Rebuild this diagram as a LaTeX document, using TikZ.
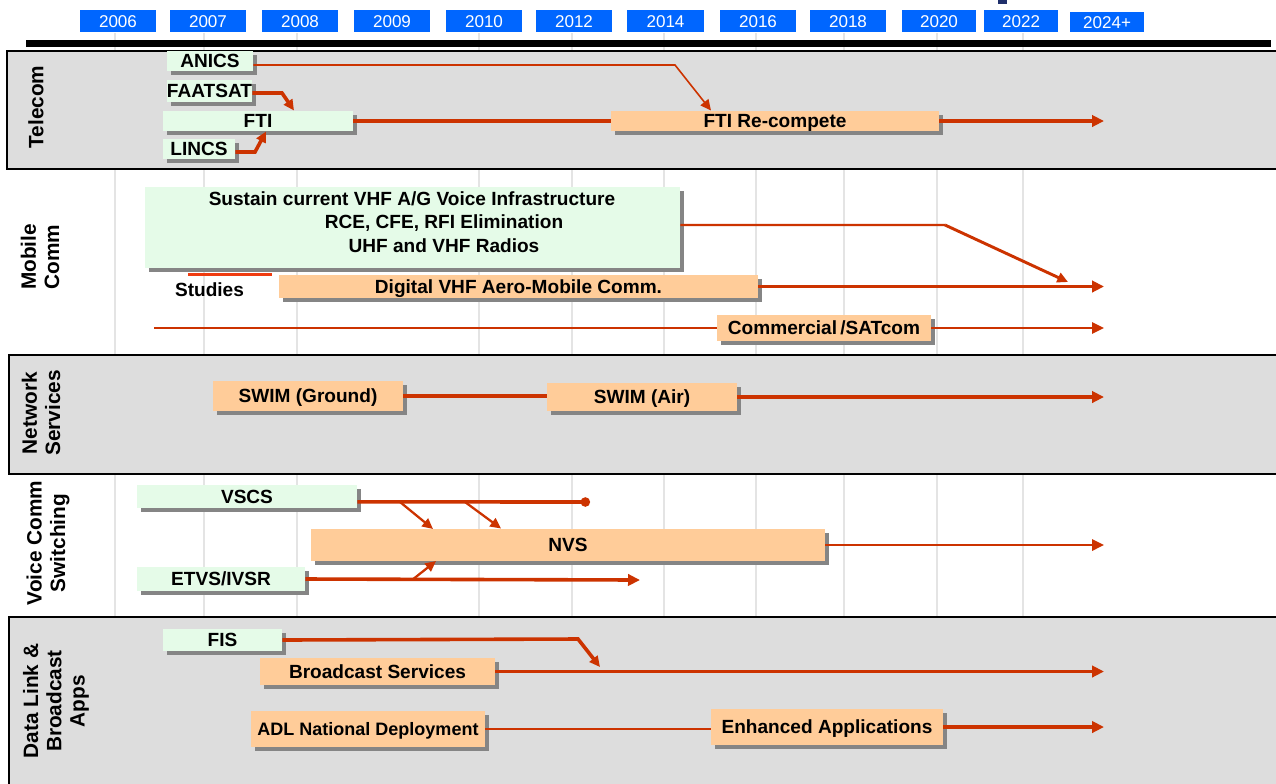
\documentclass[tikz,border=0pt]{standalone}
\usepackage{fontspec}
\setmainfont{Liberation Sans}
\usetikzlibrary{arrows.meta,shadows}
\definecolor{yearblue}{HTML}{0066FF}
\definecolor{bandgray}{HTML}{DDDDDD}
\definecolor{gridgray}{HTML}{E4E4E4}
\definecolor{boxgreen}{HTML}{E5FBE8}
\definecolor{boxpeach}{HTML}{FFCC99}
\definecolor{shgray}{HTML}{858585}
\definecolor{lred}{HTML}{CC3300}
\definecolor{barred}{HTML}{F03C10}
\definecolor{navy}{HTML}{1F2F6B}
\newcommand\boxfnt{\bfseries\fontsize{14.3}{16}\selectfont}
\newcommand\adlfnt{\bfseries\fontsize{13.5}{16}\selectfont}
\newcommand\yearfnt{\fontsize{12.8}{14}\selectfont}
\newcommand\lanefnt{\bfseries\fontsize{15.6}{17.5}\selectfont}
\tikzset{
  bx/.style n args={4}{at={({(#1+#3)/2},{(#2+#4)/2})},
    minimum width={(#3-#1)*0.75pt}, minimum height={(#4-#2)*0.75pt}},
  boxbase/.style={inner sep=0pt, font=\boxfnt, text height=10.2pt, text depth=0pt,
    drop shadow={shadow xshift=3pt, shadow yshift=-3pt, fill=shgray, opacity=1}},
  gbox/.style={boxbase, fill=boxgreen},
  pbox/.style={boxbase, fill=boxpeach},
  plaintext/.style={inner sep=0pt, font=\boxfnt, text height=10.2pt, text depth=0pt},
  yearbox/.style={fill=yearblue, inner sep=0pt, text=white, font=\yearfnt,
    text height=9.2pt, text depth=0pt},
  band/.style={fill=bandgray, draw=black, line width=1.5pt},
  gridline/.style={draw=gridgray, line width=1.5pt},
  lanelabel/.style={rotate=90, align=center, font=\lanefnt, inner sep=0pt},
  thickline/.style={draw=lred, line width=2.7pt},
  medline/.style={draw=lred, line width=1.7pt},
  thinline/.style={draw=lred, line width=1.2pt},
  bigtip/.style={-{Triangle[length=9pt,width=8.5pt]}},
  smalltip/.style={-{Triangle[length=8pt,width=7.5pt]}},
  dottip/.style={-{Circle[length=7pt]}},
}
\begin{document}
\begin{tikzpicture}[x=0.75pt,y=-0.75pt]
\useasboundingbox (0,0) rectangle (1276,783);
\fill[white] (0,0) rectangle (1276,783);

% grid lines
\foreach \gx in {115,204,297,479,572,664,756,844,937,1023}
  \draw[gridline] (\gx,33) -- (\gx,790);

% title fragment
\fill[navy] (998,0) rectangle (1007,4);

% year boxes
\node[yearbox, bx={80}{10}{156}{32}] (y06) {2006};
\node[yearbox, bx={170}{10}{246}{32}] (y07) {2007};
\node[yearbox, bx={262}{10}{338}{32}] (y08) {2008};
\node[yearbox, bx={354}{10}{430}{32}] (y09) {2009};
\node[yearbox, bx={446}{10}{522}{32}] (y10) {2010};
\node[yearbox, bx={536}{10}{612}{32}] (y12) {2012};
\node[yearbox, bx={627}{10}{704}{32}] (y14) {2014};
\node[yearbox, bx={720}{10}{796}{32}] (y16) {2016};
\node[yearbox, bx={810}{10}{886}{32}] (y18) {2018};
\node[yearbox, bx={902}{10}{976}{32}] (y20) {2020};
\node[yearbox, bx={984}{10}{1058}{32}] (y22) {2022};
\node[yearbox, bx={1070}{12}{1144}{32}] (y24) {2024+};

% black bar
\fill[black] (26,40) rectangle (1271,47);

% bands
\path[band] (7,51) rectangle (1290,169);
\path[band] (9,355) rectangle (1290,474);
\draw[line width=2pt] (9,474) -- (1290,474);
\path[band] (9,617) rectangle (1290,795);

% lane labels
\node[lanelabel] (ltel) at (36,107) {Telecom};
\node[lanelabel] (lmob) at (40,257) {Mobile\\Comm};
\node[lanelabel] (lnet) at (41,413) {Network\\Services};
\node[lanelabel] (lvoice) at (48,543) {Voice Comm\\Switching};
\node[lanelabel] (ldata) at (56,701) {Data Link \&\\Broadcast\\Apps};

% coordinates
\coordinate (endx) at (1104,0);
\coordinate (anicsBend) at (675,65);
\coordinate (anicsTip) at (711,110.5);
\coordinate (faatBend) at (282,93);
\coordinate (faatTip) at (294,110.5);
\coordinate (lincsBend) at (255,152);
\coordinate (lincsTip) at (266,131.5);
\coordinate (susBend) at (945,225);
\coordinate (susTip) at (1068,282);
\coordinate (commStart) at (154,328);
\coordinate (vscsEnd) at (590,502);
\coordinate (vd1s) at (400,502);
\coordinate (vd1e) at (433,529);
\coordinate (vd2s) at (465,502);
\coordinate (vd2e) at (501,528.5);
\coordinate (etvsEnd) at (640,580);
\coordinate (ed1s) at (412,580);
\coordinate (ed1e) at (436,561);
\coordinate (fisBend) at (578,639);
\coordinate (fisTip) at (600,667);

% red bar under sustain box
\fill[barred] (188,272.5) rectangle (272,276);

% boxes
\node[gbox, bx={167}{51}{253}{71}] (anics) {ANICS};
\node[gbox, bx={167}{80}{252}{102}] (faatsat) {FAATSAT};
\node[gbox, bx={163}{111}{353}{131}] (fti) {FTI};
\node[gbox, bx={163}{139}{235}{159}] (lincs) {LINCS};
\node[pbox, bx={611}{111}{939}{131}] (ftirc) {FTI Re-compete};

\node[gbox, bx={145}{187}{680}{268}] (sustain) {};
\node[plaintext] (sus1) at (412,198.5) {Sustain current VHF A/G Voice Infrastructure};
\node[plaintext] (sus2) at (444,222) {RCE, CFE, RFI Elimination};
\node[plaintext] (sus3) at (444,245.5) {UHF and VHF Radios};
\node[plaintext] (studies) at (209.5,290) {Studies};
\node[pbox, bx={279}{275}{758}{298}] (digital) {Digital VHF Aero-Mobile Comm.};
\node[pbox, bx={717}{315}{931}{341}] (comm) {Commercial\,/SATcom};

\node[pbox, bx={213}{381}{403}{411}] (swimg) {SWIM (Ground)};
\node[pbox, bx={547}{383}{737}{411}] (swima) {SWIM (Air)};

\node[gbox, bx={137}{485}{357}{508}] (vscs) {VSCS};
\node[pbox, bx={311}{529}{825}{561}] (nvs) {NVS};
\node[gbox, bx={137}{567}{305}{591}] (etvs) {ETVS/IVSR};

\node[gbox, bx={163}{629}{282}{651}] (fis) {FIS};
\node[pbox, bx={260}{658}{495}{685}] (bcast) {Broadcast Services};
\node[pbox, bx={251}{711}{485}{747}, font=\adlfnt] (adl) {ADL National Deployment};
\node[pbox, bx={711}{709}{943}{745}] (enh) {Enhanced Applications};

% connectors
% Telecom
\draw[thinline, smalltip] ([yshift=-3pt]anics.east) -- (anicsBend) -- (anicsTip);
\draw[thickline, smalltip] ([yshift=-1.5pt]faatsat.east) -- (faatBend) -- (faatTip);
\draw[thickline, smalltip] ([yshift=-2.25pt]lincs.east) -- (lincsBend) -- (lincsTip);
\draw[thickline] (fti.east) -- (ftirc.west);
\draw[thickline, bigtip] (ftirc.east) -- (ftirc.east -| endx);
% Mobile
\draw[medline] ([yshift=1.9pt]sustain.east) -- (susBend);
\draw[line width=2.2pt, draw=lred, smalltip] (susBend) -- (susTip);
\draw[thickline, bigtip] (digital.east) -- (digital.east -| endx);
\draw[thinline] (commStart) -- (comm.west);
\draw[thinline, bigtip] (comm.east) -- (comm.east -| endx);
% Network
\draw[thickline] (swimg.east) -- (swimg.east -| swima.west);
\draw[thickline, bigtip] (swima.east) -- (swima.east -| endx);
% Voice
\draw[thickline, dottip] ([yshift=-4pt]vscs.east) -- (vscsEnd);
\draw[medline, smalltip] (vd1s) -- (vd1e);
\draw[medline, smalltip] (vd2s) -- (vd2e);
\draw[medline, bigtip] (nvs.east) -- (nvs.east -| endx);
\draw[thickline, bigtip] (etvs.east) -- (etvsEnd);
\draw[medline, smalltip] (ed1s) -- (ed1e);
% Data link
\draw[thickline, smalltip] (fis.east) -- (fisBend) -- (fisTip);
\draw[thickline, bigtip] (bcast.east) -- (bcast.east -| endx);
\draw[medline] (adl.east) -- (adl.east -| enh.west);
\draw[thickline, bigtip] (enh.east) -- (enh.east -| endx);
\end{tikzpicture}
\end{document}
